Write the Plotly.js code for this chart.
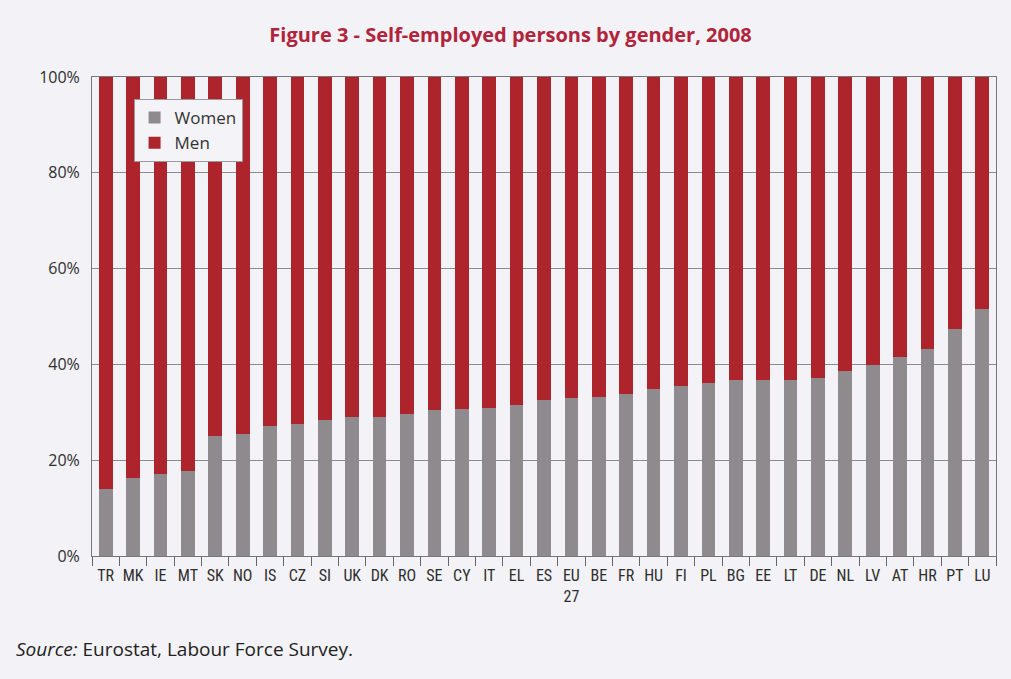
<!DOCTYPE html>
<html>
<head>
<meta charset="utf-8">
<script src="https://cdn.plot.ly/plotly-3.0.1.min.js"></script>
<style>
html,body{margin:0;padding:0;background:#f3f2f6;}
#chart{width:1011px;height:679px;}
</style>
</head>
<body>
<div id="chart"></div>
<script>
const countries = ["TR","MK","IE","MT","SK","NO","IS","CZ","SI","UK","DK","RO","SE","CY","IT","EL","ES","EU<br>27","BE","FR","HU","FI","PL","BG","EE","LT","DE","NL","LV","AT","HR","PT","LU"];
const women = [14.0,16.3,17.2,17.8,25.0,25.4,27.1,27.6,28.3,29.0,29.1,29.7,30.4,30.7,31.0,31.6,32.6,32.9,33.1,33.8,34.9,35.4,36.1,36.8,36.7,36.8,37.2,38.6,39.8,41.6,43.3,47.4,51.6];
const men = [86.0,83.7,82.8,82.2,75.0,74.6,72.9,72.4,71.7,71.0,70.9,70.3,69.6,69.3,69.0,68.4,67.4,67.1,66.9,66.2,65.1,64.6,63.9,63.2,63.3,63.2,62.8,61.4,60.2,58.4,56.7,52.6,48.4];
const yTickVals = [0,20,40,60,80,100];
const yTickText = ["0%","20%","40%","60%","80%","100%"];

const traces = [
  {type:"bar", name:"Women", x:countries, y:women, marker:{color:"#8e8a8e"}},
  {type:"bar", name:"Men", x:countries, y:men, marker:{color:"#ad242c"}}
];

const layout = {
  width:1011, height:679,
  paper_bgcolor:"#f3f2f6", plot_bgcolor:"#f3f2f6",
  margin:{l:92, r:15, t:77, b:123},
  barmode:"stack", bargap:0.5,
  title:{text:"<b>Figure 3 - Self-employed persons by gender, 2008</b>", x:0.505, xanchor:"center", y:0.948, yanchor:"middle",
         font:{family:"Open Sans, Noto Sans, sans-serif", size:20, color:"#b0243c"}},
  xaxis:{type:"category", tickson:"boundaries", ticks:"outside", ticklen:9, tickcolor:"#666", tickangle:0,
         showline:true, linecolor:"#777", mirror:true, showgrid:false, ticklabelstandoff:5,
         tickfont:{family:"Roboto Condensed, Liberation Sans Narrow, DejaVu Sans Condensed, sans-serif", size:16, color:"#2e2e2e"}},
  yaxis:{range:[0,100], tickvals:yTickVals, ticktext:yTickText, showgrid:true, gridcolor:"#8a8a8e", gridwidth:1,
         showline:true, linecolor:"#777", mirror:true, ticks:"", zeroline:false, ticklabelstandoff:8,
         tickfont:{family:"Open Sans, Noto Sans, sans-serif", size:16, color:"#2e2e2e"}},
  legend:{x:0.046, y:0.954, xanchor:"left", yanchor:"top", traceorder:"normal",
          bgcolor:"#f4f3f7", bordercolor:"#999", borderwidth:1,
          font:{family:"Open Sans, Noto Sans, sans-serif", size:17, color:"#333"}},
  annotations:[
    {xref:"paper", yref:"paper", x:-0.086, y:-0.195, xanchor:"left", yanchor:"middle", showarrow:false,
     text:"<i>Source:</i> Eurostat, Labour Force Survey.",
     font:{family:"Open Sans, Noto Sans, sans-serif", size:19, color:"#222"}}
  ]
};

Plotly.newPlot("chart", traces, layout, {displayModeBar:false});
</script>
</body>
</html>
